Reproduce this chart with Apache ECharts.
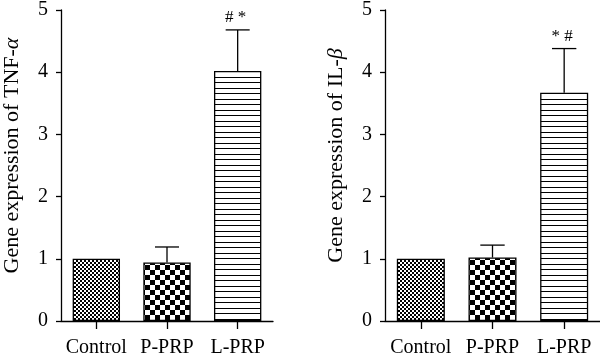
<!DOCTYPE html>
<html>
<head>
<meta charset="utf-8">
<script src="https://cdn.jsdelivr.net/npm/echarts@6/dist/echarts.min.js"></script>
<style>html,body{margin:0;padding:0;background:#fff;}#c{width:600px;height:361px;}</style>
</head>
<body>
<div id="c"></div>
<script>
var categories = ['Control', 'P-PRP', 'L-PRP'];
var tnfMeans = [1.0, 0.94, 4.02];
var tnfUpper = [null, 1.19, 4.68];
var tnfMarks = ['', '', '# *'];
var ilMeans = [1.0, 1.02, 3.67];
var ilUpper = [null, 1.22, 4.38];
var ilMarks = ['', '', '* #'];
var yTicks = [0, 1, 2, 3, 4, 5];

var FONT = '"Liberation Serif", "DejaVu Serif", serif';

function makePattern(kind) {
  var c = document.createElement('canvas');
  var g;
  if (kind === 'fine') {
    c.width = 4; c.height = 4; g = c.getContext('2d');
    g.fillStyle = '#fff'; g.fillRect(0, 0, 4, 4);
    g.fillStyle = '#000'; g.fillRect(0, 0, 2, 2); g.fillRect(2, 2, 2, 2);
  } else if (kind === 'coarse') {
    c.width = 10; c.height = 10; g = c.getContext('2d');
    g.fillStyle = '#fff'; g.fillRect(0, 0, 10, 10);
    g.fillStyle = '#000'; g.fillRect(0, 0, 5, 5); g.fillRect(5, 5, 5, 5);
  } else {
    c.width = 4; c.height = 11; g = c.getContext('2d');
    g.fillStyle = '#fff'; g.fillRect(0, 0, 4, 11);
    g.fillStyle = '#000'; g.fillRect(0, 0, 4, 1); g.fillRect(0, 5, 4, 1);
  }
  return { image: c, repeat: 'repeat' };
}
var patterns = [makePattern('fine'), makePattern('coarse'), makePattern('lines')];

function barData(means) {
  return means.map(function (v, i) {
    return { value: v, itemStyle: { color: patterns[i] } };
  });
}
function errData(means, upper, marks) {
  return means.map(function (v, i) {
    return [i, v, upper[i] == null ? v : upper[i], marks[i]];
  });
}
function renderErr(params, api) {
  var i = api.value(0);
  var lo = api.coord([i, api.value(1)]);
  var hi = api.coord([i, api.value(2)]);
  var band = api.size([1, 0])[0];
  var half = band * 0.17;
  var children = [];
  if (hi[1] < lo[1] - 0.5) {
    children.push({ type: 'line', shape: { x1: lo[0], y1: lo[1], x2: hi[0], y2: hi[1] }, style: { stroke: '#000', lineWidth: 1.3 } });
    children.push({ type: 'line', shape: { x1: hi[0] - half, y1: hi[1], x2: hi[0] + half, y2: hi[1] }, style: { stroke: '#000', lineWidth: 1.3 } });
  }
  var txt = api.value(3);
  if (txt) {
    children.push({ type: 'text', style: { text: String(txt), x: hi[0] - 2, y: hi[1] - 4, textAlign: 'center', textVerticalAlign: 'bottom', align: 'center', verticalAlign: 'bottom', font: '17px ' + FONT, fill: '#000' } });
  }
  return { type: 'group', children: children };
}

function yAxis(gi, nameRich) {
  return {
    type: 'value', gridIndex: gi, min: 0, max: 5, interval: 1,
    name: nameRich, nameLocation: 'middle', nameGap: 38, nameRotate: 90,
    nameTextStyle: {
      fontFamily: FONT, fontSize: 22, color: '#000', padding: [0, 0, 0, 20],
      rich: { a: { fontFamily: FONT, fontSize: 22, color: '#000' }, i: { fontFamily: FONT, fontSize: 22, fontStyle: 'italic', color: '#000' } }
    },
    axisLine: { show: true, lineStyle: { color: '#000', width: 1.3 } },
    axisTick: { show: true, length: 5, lineStyle: { color: '#000', width: 1.3 } },
    axisLabel: { margin: 13, fontFamily: FONT, fontSize: 20, color: '#000',
      formatter: function (v) { return yTicks.indexOf(v) >= 0 ? String(v) : ''; } },
    splitLine: { show: false }
  };
}
function xAxis(gi) {
  return {
    type: 'category', gridIndex: gi, data: categories,
    axisLine: { show: true, lineStyle: { color: '#000', width: 1.3 } },
    axisTick: { show: true, alignWithLabel: true, length: 8, lineStyle: { color: '#000', width: 1.3 } },
    axisLabel: { margin: 17, interval: 0, fontFamily: FONT, fontSize: 20, color: '#000' }
  };
}

var chart = echarts.init(document.getElementById('c'), null, { renderer: 'canvas' });
chart.setOption({
  animation: false,
  backgroundColor: '#fff',
  grid: [
    { left: 58, width: 215, top: 10, bottom: 40 },
    { left: 385, width: 215, top: 10, bottom: 40 }
  ],
  xAxis: [xAxis(0), xAxis(1)],
  yAxis: [yAxis(0, '{a|Gene expression of TNF-}{i|α}'), yAxis(1, '{a|Gene expression of IL-}{i|β}')],
  series: [
    { type: 'bar', xAxisIndex: 0, yAxisIndex: 0, data: barData(tnfMeans), barWidth: '67%',
      itemStyle: { borderColor: '#000', borderWidth: 1.3 } },
    { type: 'custom', xAxisIndex: 0, yAxisIndex: 0, data: errData(tnfMeans, tnfUpper, tnfMarks), renderItem: renderErr, z: 3 },
    { type: 'bar', xAxisIndex: 1, yAxisIndex: 1, data: barData(ilMeans), barWidth: '67%',
      itemStyle: { borderColor: '#000', borderWidth: 1.3 } },
    { type: 'custom', xAxisIndex: 1, yAxisIndex: 1, data: errData(ilMeans, ilUpper, ilMarks), renderItem: renderErr, z: 3 }
  ]
});
</script>
</body>
</html>
